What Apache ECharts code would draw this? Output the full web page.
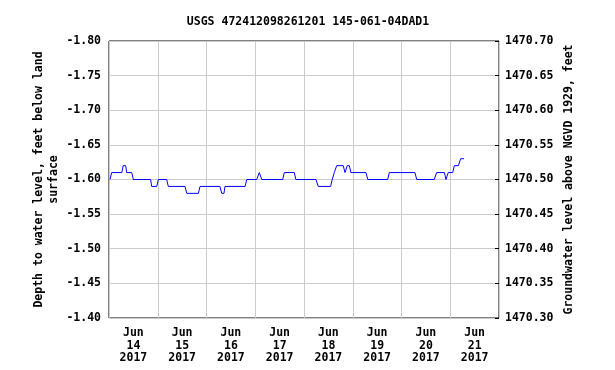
<!DOCTYPE html>
<html><head><meta charset="utf-8">
<script src="https://cdn.jsdelivr.net/npm/echarts@6/dist/echarts.min.js"></script>
<style>html,body{margin:0;padding:0;background:#fff}#c{width:615px;height:370px}</style>
</head><body><div id="c"></div>
<script>
const title = 'USGS 472412098261201 145-061-04DAD1';
const dayLabels = ['Jun\n14\n2017','Jun\n15\n2017','Jun\n16\n2017','Jun\n17\n2017','Jun\n18\n2017','Jun\n19\n2017','Jun\n20\n2017','Jun\n21\n2017'];
// hours since 2017-06-14 00:00
const hours = [0.5,1.3,6.3,7.0,8.2,8.7,11.2,12.0,20.5,21.0,23.5,24.3,28.4,29.2,37.4,38.3,44.0,44.8,54.6,55.5,56.6,57.1,67.0,67.8,72.7,74.0,75.2,85.5,86.3,91.2,92.0,101.9,103.0,109.1,109.9,110.9,112.1,115.3,116.2,117.3,118.3,119.1,126.5,127.4,137.2,138.0,150.6,151.5,160.1,161.3,165.1,165.9,167.0,169.2,170.0,172.0,173.1,174.8];
const depth = [-1.60,-1.61,-1.61,-1.62,-1.62,-1.61,-1.61,-1.60,-1.60,-1.59,-1.59,-1.60,-1.60,-1.59,-1.59,-1.58,-1.58,-1.59,-1.59,-1.58,-1.58,-1.59,-1.59,-1.60,-1.60,-1.61,-1.60,-1.60,-1.61,-1.61,-1.60,-1.60,-1.59,-1.59,-1.60,-1.61,-1.62,-1.62,-1.61,-1.62,-1.62,-1.61,-1.61,-1.60,-1.60,-1.61,-1.61,-1.60,-1.60,-1.61,-1.61,-1.60,-1.61,-1.61,-1.62,-1.62,-1.63,-1.63];
const leftMin = -1.80, leftMax = -1.40, rightMin = 1470.30, rightMax = 1470.70, step = 0.05;

const font = 'DejaVu Sans Mono';
const txt = {fontFamily: font, fontWeight: 'bold', fontSize: 11.5, color: '#000'};
const chart = echarts.init(document.getElementById('c'), null, {renderer: 'canvas'});
chart.setOption({
  animation: false,
  title: {text: title, left: 303, top: 11, textAlign: 'center', textStyle: Object.assign({}, txt)},
  grid: {left: 109, top: 41, width: 390, height: 277, show: true, borderColor: '#000', borderWidth: 1, backgroundColor: 'transparent'},
  xAxis: [
    {type: 'value', min: 0, max: 192, interval: 24, axisLabel: {show: false}, axisTick: {show: false},
     axisLine: {show: false}, splitLine: {show: true, lineStyle: {color: '#cccccc', width: 1}}},
    {type: 'category', data: dayLabels, boundaryGap: true, position: 'bottom', axisTick: {show: false}, axisLine: {show: false},
     splitLine: {show: false}, axisLabel: Object.assign({margin: 9, lineHeight: 12.5, interval: 0}, txt)}
  ],
  yAxis: [
    {type: 'value', min: leftMin, max: leftMax, interval: step, inverse: true,
     name: 'Depth to water level, feet below land\nsurface', nameLocation: 'middle', nameRotate: 90, nameGap: 47,
     nameMoveOverlap: false,
     nameTextStyle: Object.assign({lineHeight: 15}, txt),
     axisLine: {show: false}, axisTick: {show: false},
     axisLabel: Object.assign({margin: 8, formatter: v => v.toFixed(2)}, txt),
     splitLine: {show: true, lineStyle: {color: '#cccccc', width: 1}}},
    {type: 'value', min: rightMin, max: rightMax, interval: step, position: 'right',
     name: 'Groundwater level above NGVD 1929, feet', nameLocation: 'middle', nameRotate: 90, nameGap: 64,
     nameMoveOverlap: false,
     nameTextStyle: Object.assign({}, txt),
     axisLine: {show: false}, axisTick: {show: true, inside: true, length: 4, lineStyle: {color: '#000'}},
     axisLabel: Object.assign({margin: 6, formatter: v => v.toFixed(2)}, txt),
     splitLine: {show: false}}
  ],
  series: [{
    type: 'line', xAxisIndex: 0, yAxisIndex: 0, showSymbol: false, symbol: 'none',
    lineStyle: {color: '#0000ff', width: 1}, data: hours.map((h, i) => [h, depth[i]])
  }]
});
</script></body></html>
